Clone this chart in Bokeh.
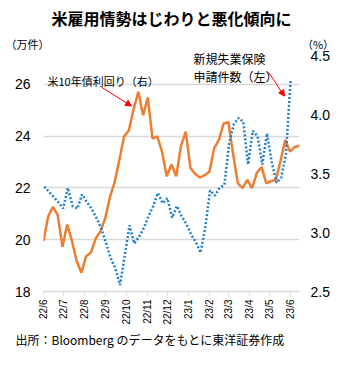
import math
import pandas as pd
from bokeh.plotting import figure
from bokeh.models import (Range1d, LinearAxis, Label, Arrow, NormalHead, Title,
                          FixedTicker, NumeralTickFormatter)
from bokeh.embed import file_html
from bokeh.resources import INLINE

# ---------------- data ----------------
claims_start = "2022-06-02"   # weekly, 万件 (left axis)
claims = [22.05, 21.85, 21.65, 21.45, 21.2, 22.0, 21.3, 21.2, 21.75, 21.45,
          21.2, 20.85, 20.45, 19.9, 19.3, 18.9, 18.25, 19.4, 20.55, 19.85,
          20.1, 20.45, 20.9, 21.3, 21.8, 21.4, 21.6, 20.85, 21.3, 20.9,
          20.6, 20.2, 19.9, 19.5, 20.5, 21.9, 21.7, 22.0, 22.1, 23.7,
          24.45, 24.7, 24.55, 22.9, 24.2, 24.0, 22.9, 24.1, 23.0, 22.2,
          22.4, 23.3, 26.2]
yield_start = "2022-06-01"    # weekly, % (right axis)
yields = [2.93, 3.14, 3.22, 3.15, 2.88, 3.07, 2.93, 2.76, 2.66, 2.80,
          2.83, 2.95, 3.01, 3.12, 3.30, 3.43, 3.62, 3.82, 3.87, 4.05,
          4.20, 4.00, 4.15, 3.80, 3.82, 3.69, 3.48, 3.58, 3.48, 3.74,
          3.86, 3.55, 3.50, 3.47, 3.49, 3.52, 3.72, 3.79, 3.93, 3.94,
          3.67, 3.42, 3.38, 3.45, 3.38, 3.51, 3.56, 3.42, 3.44, 3.45,
          3.61, 3.79, 3.69, 3.73, 3.74]
month_starts = pd.date_range("2022-06-01", "2023-06-01", freq="MS")
month_labels = ["22/6", "22/7", "22/8", "22/9", "22/10", "22/11", "22/12",
                "23/1", "23/2", "23/3", "23/4", "23/5", "23/6"]
left_ticks = [18, 20, 22, 24, 26]
right_ticks = [2.5, 3.0, 3.5, 4.0, 4.5]

title_text = "米雇用情勢はじわりと悪化傾向に"
left_unit = "（万件）"
right_unit = "（%）"
yield_name = "米10年債利回り（右）"
claims_name_1 = "新規失業保険"
claims_name_2 = "申請件数（左）"
source_text = "出所：Bloomberg のデータをもとに東洋証券作成"

# ---------------- geometry ----------------
origin = pd.Timestamp("2022-06-01")
def days(ts):
    return (pd.Timestamp(ts) - origin).days

claims_x = [days(d) for d in pd.date_range(claims_start, periods=len(claims), freq="7D")]
yield_x = [days(d) for d in pd.date_range(yield_start, periods=len(yields), freq="7D")]
tick_x = [days(d) for d in month_starts]

W, H = 340, 380
FL, FR, FT, FB = 43, 299, 49, 291      # frame in px
PX_26, PX_18 = 82.0, 291.0
PX_45, PX_25 = 54.0, 291.0
lpp = (26 - 18) / (PX_18 - PX_26)
rpp = (4.5 - 2.5) / (PX_25 - PX_45)

X0, X1 = 0, 378
L0, L1 = 18 - (PX_18 - FB) * lpp, 18 + (PX_18 - FT) * lpp
R0, R1 = 2.5 - (PX_25 - FB) * rpp, 2.5 + (PX_25 - FT) * rpp

def px_x(px):
    return X0 + (px - FL) / (FR - FL) * (X1 - X0)
def px_y(py):
    return L0 + (FB - py) / (FB - FT) * (L1 - L0)

JP = "Noto Sans CJK JP"
NUM = "Liberation Sans"

p = figure(width=W, height=H, output_backend="svg", toolbar_location=None,
           x_range=Range1d(X0, X1), y_range=Range1d(L0, L1),
           min_border_left=FL, min_border_right=W - FR,
           min_border_top=FT, min_border_bottom=H - FB)
p.outline_line_color = None
p.background_fill_color = "white"
p.border_fill_color = "white"
p.extra_y_ranges = {"r": Range1d(R0, R1)}

ya = p.yaxis[0]
ya.ticker = FixedTicker(ticks=left_ticks)
ya.axis_line_color = None
ya.major_tick_line_color = None
ya.minor_tick_line_color = None
ya.major_label_text_font = NUM
ya.major_label_text_font_size = "14px"
ya.major_label_text_color = "black"
ya.major_label_standoff = 7

ra = LinearAxis(y_range_name="r", ticker=FixedTicker(ticks=right_ticks),
                formatter=NumeralTickFormatter(format="0.0"))
ra.axis_line_color = None
ra.major_tick_line_color = None
ra.minor_tick_line_color = None
ra.major_label_text_font = NUM
ra.major_label_text_font_size = "14px"
ra.major_label_text_color = "black"
ra.major_label_standoff = 5
p.add_layout(ra, "right")

xa = p.xaxis[0]
xa.ticker = FixedTicker(ticks=tick_x)
xa.major_label_overrides = {t: lab for t, lab in zip(tick_x, month_labels)}
xa.major_label_orientation = math.pi / 2
xa.major_label_text_font = NUM
xa.major_label_text_font_size = "10px"
xa.major_label_text_color = "black"
xa.axis_line_color = "#d9d9d9"
xa.axis_line_width = 1.5
xa.major_tick_line_color = "#d9d9d9"
xa.major_tick_in = 0
xa.major_tick_out = 4
xa.minor_tick_line_color = None
xa.major_label_standoff = 4

p.xgrid.grid_line_color = None
p.ygrid.ticker = FixedTicker(ticks=left_ticks[1:])
p.ygrid.grid_line_color = "#d9d9d9"
p.ygrid.grid_line_width = 1.5

p.line(yield_x, yields, y_range_name="r", line_color="#ED7D31", line_width=2.5)
p.line(claims_x, claims, line_color="#1f7fd0", line_width=2.5, line_dash="2 2")

def ptxt(text, px, py, size):
    p.add_layout(Label(x=px_x(px), y=px_y(py), text=text, text_font=JP,
                       text_font_size=size, text_align="left",
                       text_baseline="middle", text_color="black"))

ptxt(yield_name, 47, 79, "11px")
ptxt(claims_name_1, 193, 56, "12px")
ptxt(claims_name_2, 193, 74, "12px")

for (x0, y0, x1, y1) in [(101, 85, 131, 104), (268, 70, 284, 94)]:
    p.add_layout(Arrow(end=NormalHead(size=6, fill_color="red", line_color="red"),
                       x_start=px_x(x0), y_start=px_y(y0), x_end=px_x(x1), y_end=px_y(y1),
                       line_color="red", line_width=1))

# header: units row (closest to frame), then main title
gap = "\u3000" * 23 + "\u00a0" * 2
p.add_layout(Title(text=left_unit + gap + right_unit, align="left", offset=-38,
                   standoff=0, vertical_align="bottom", text_font=JP,
                   text_font_size="11px", text_font_style="normal",
                   text_color="black"), "above")
p.add_layout(Title(text=title_text, align="center", standoff=7,
                   vertical_align="bottom", text_font=JP, text_font_size="16px",
                   text_font_style="bold", text_color="black"), "above")

# footer: source
p.add_layout(Title(text=source_text, align="left", offset=-28, standoff=2,
                   vertical_align="bottom", text_font=JP, text_font_size="12px",
                   text_font_style="normal", text_color="black"), "below")

open("out.html", "w").write(file_html(p, INLINE))
